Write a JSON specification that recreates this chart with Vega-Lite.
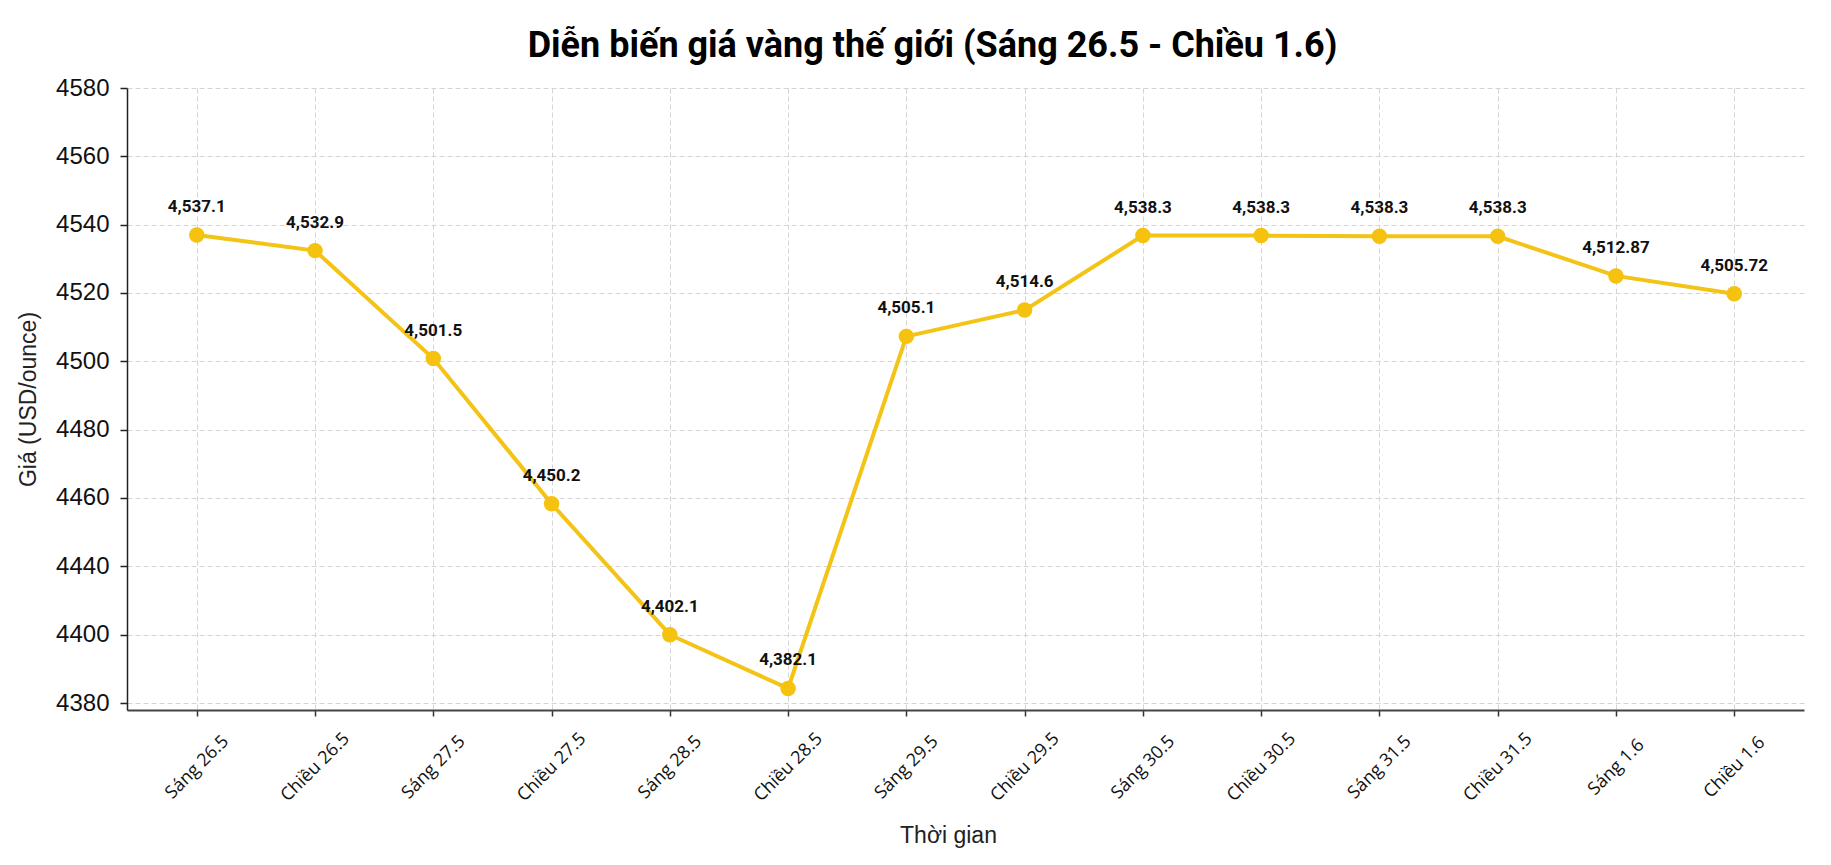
{
  "$schema": "https://vega.github.io/schema/vega-lite/v6.json",
  "autosize": {"type": "none"},
  "width": 1677,
  "height": 622,
  "padding": {"left": 127, "top": 88, "right": 27, "bottom": 155},
  "background": "white",
  "title": {
    "text": "Diễn biến giá vàng thế giới (Sáng 26.5 - Chiều 1.6)",
    "font": "Roboto",
    "fontSize": 36,
    "fontWeight": "bold",
    "color": "#000000",
    "anchor": "middle",
    "baseline": "alphabetic",
    "dx": -33,
    "offset": -17
  },
  "config": {
    "view": {"stroke": null},
    "axis": {"gridColor": "#d4d4d4", "gridDash": [5, 3], "gridWidth": 1}
  },
  "data": {
    "values": [
      {"thoi_gian": "Sáng 26.5", "gia": 4537.0, "nhan": "4,537.1"},
      {"thoi_gian": "Chiều 26.5", "gia": 4532.4, "nhan": "4,532.9"},
      {"thoi_gian": "Sáng 27.5", "gia": 4500.8, "nhan": "4,501.5"},
      {"thoi_gian": "Chiều 27.5", "gia": 4458.3, "nhan": "4,450.2"},
      {"thoi_gian": "Sáng 28.5", "gia": 4400.0, "nhan": "4,402.1"},
      {"thoi_gian": "Chiều 28.5", "gia": 4384.3, "nhan": "4,382.1"},
      {"thoi_gian": "Sáng 29.5", "gia": 4507.3, "nhan": "4,505.1"},
      {"thoi_gian": "Chiều 29.5", "gia": 4515.0, "nhan": "4,514.6"},
      {"thoi_gian": "Sáng 30.5", "gia": 4536.8, "nhan": "4,538.3"},
      {"thoi_gian": "Chiều 30.5", "gia": 4536.8, "nhan": "4,538.3"},
      {"thoi_gian": "Sáng 31.5", "gia": 4536.6, "nhan": "4,538.3"},
      {"thoi_gian": "Chiều 31.5", "gia": 4536.6, "nhan": "4,538.3"},
      {"thoi_gian": "Sáng 1.6", "gia": 4525.0, "nhan": "4,512.87"},
      {"thoi_gian": "Chiều 1.6", "gia": 4519.8, "nhan": "4,505.72"}
    ]
  },
  "encoding": {
    "x": {
      "field": "thoi_gian",
      "type": "ordinal",
      "sort": null,
      "scale": {"type": "point", "padding": 0.59},
      "axis": {
        "title": "Thời gian",
        "titleFont": "Liberation Sans",
        "titleFontSize": 23,
        "titleFontWeight": "normal",
        "titleColor": "#222222",
        "titleX": 821,
        "titleY": 132,
        "titleBaseline": "alphabetic",
        "titleAnchor": null,
        "labelFont": "Open Sans",
        "labelFontSize": 18,
        "labelColor": "#111111",
        "labelAngle": -45,
        "labelAlign": "center",
        "labelBaseline": "middle",
        "labelPadding": 51,
        "labelDx": -16,
        "tickSize": 6,
        "tickColor": "#333333",
        "tickWidth": 1.5,
        "domainColor": "#444444",
        "domainWidth": 2,
        "grid": true
      }
    },
    "y": {
      "field": "gia",
      "type": "quantitative",
      "scale": {
        "domain": [4378, 4400, 4440, 4580],
        "range": [622, 546.7, 478.3, 0],
        "nice": false,
        "zero": false
      },
      "axis": {
        "title": "Giá (USD/ounce)",
        "titleFont": "Liberation Sans",
        "titleFontSize": 23,
        "titleFontWeight": "normal",
        "titleColor": "#222222",
        "titleX": -99,
        "titleBaseline": "middle",
        "values": [4380, 4400, 4440, 4460, 4480, 4500, 4520, 4540, 4560, 4580],
        "format": "d",
        "labelFont": "Liberation Sans",
        "labelFontSize": 24,
        "labelColor": "#111111",
        "labelPadding": 11,
        "tickSize": 7,
        "tickColor": "#222222",
        "tickWidth": 1.5,
        "domainColor": "#222222",
        "domainWidth": 1.5,
        "grid": true
      }
    }
  },
  "layer": [
    {
      "mark": {"type": "line", "color": "#F3C316", "strokeWidth": 4}
    },
    {
      "mark": {"type": "point", "filled": true, "opacity": 1, "color": "#F5C20F", "size": 240}
    },
    {
      "mark": {
        "type": "text",
        "font": "Roboto",
        "fontSize": 17,
        "fontWeight": "bold",
        "color": "#111111",
        "baseline": "middle",
        "dy": -28
      },
      "encoding": {"text": {"field": "nhan"}}
    }
  ]
}
